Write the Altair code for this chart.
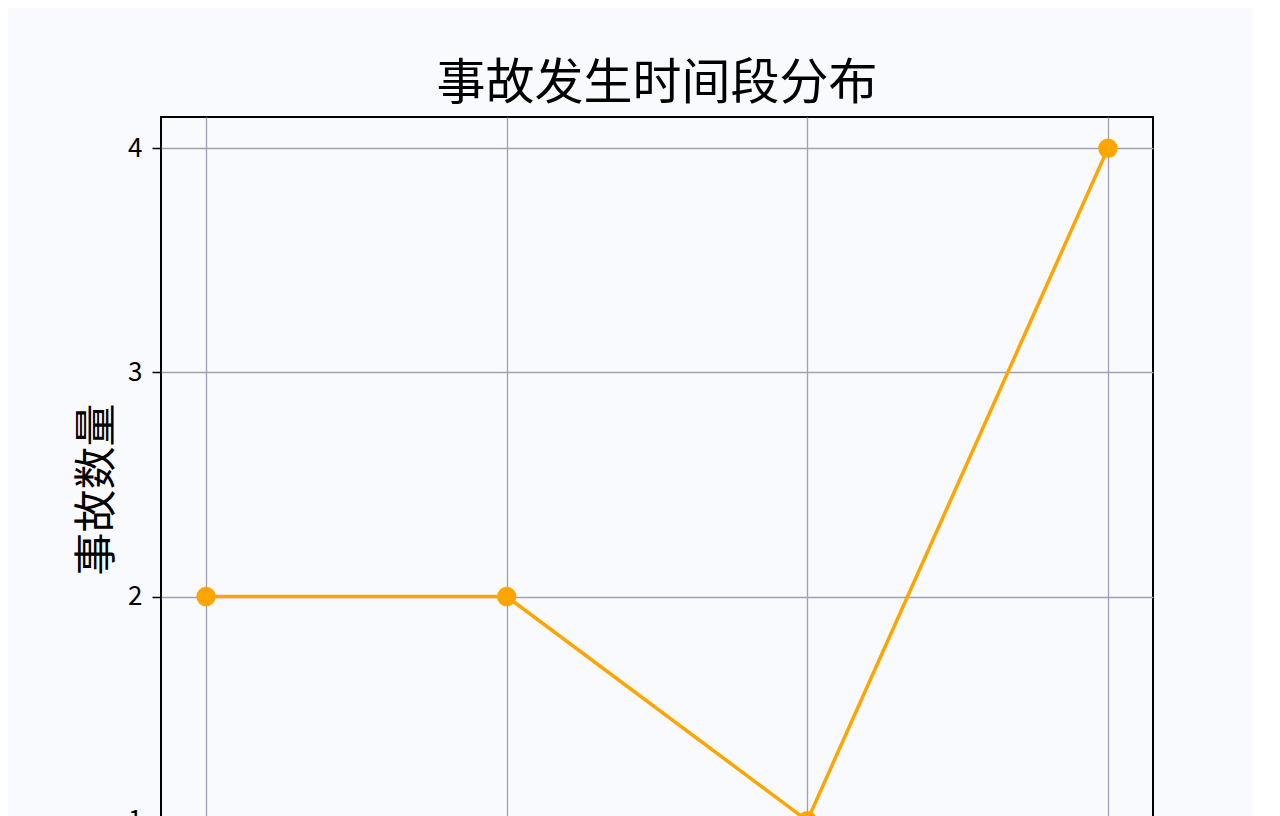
import altair as alt
import pandas as pd

periods = ["0-6时", "6-12时", "12-18时", "18-24时"]
counts = [2, 2, 1, 4]
y_ticks = [1, 2, 3, 4]

df = pd.DataFrame({"时间段": periods, "事故数量": counts})

FONT = "Noto Sans CJK SC"
GRID = "#a39eb8"

x = alt.X(
    "时间段:N",
    sort=periods,
    scale=alt.Scale(type="point", padding=0.15),
    axis=alt.Axis(
        title="时间段",
        labelAngle=0,
        grid=True,
        gridColor=GRID,
        gridWidth=1.3,
        domain=False,
        tickColor="black",
        tickSize=9,
        labelFontSize=26,
        labelFont=FONT,
        labelColor="black",
        titleFontSize=42,
        titleFont=FONT,
        titleFontWeight="normal",
    ),
)
y = alt.Y(
    "事故数量:Q",
    scale=alt.Scale(domain=[0.86, 4.14], nice=False, zero=False),
    axis=alt.Axis(
        title="事故数量",
        values=y_ticks,
        format="d",
        grid=True,
        gridColor=GRID,
        gridWidth=1.3,
        domain=False,
        tickColor="black",
        tickSize=9,
        tickWidth=1.5,
        labelPadding=10,
        labelFontSize=26,
        labelFont=FONT,
        labelColor="black",
        titleFontSize=43,
        titleFont=FONT,
        titleFontWeight="normal",
        titleColor="black",
        titleX=-64,
        titleY=372,
        titleAngle=-90,
        titleAlign="center",
        titleBaseline="middle",
    ),
)

base = alt.Chart(df).encode(x=x, y=y)
line = base.mark_line(color="#FFA500", strokeWidth=3.5)
pts = base.mark_point(filled=True, color="#FFA500", size=380, opacity=1)

chart = (
    (line + pts)
    .properties(
        width=992,
        height=735,
        title=alt.TitleParams(
            "事故发生时间段分布",
            fontSize=49,
            font=FONT,
            fontWeight="normal",
            color="black",
            anchor="middle",
            offset=8,
        ),
        autosize=alt.AutoSizeParams(type="none"),
        padding={"left": 153, "top": 109, "right": 100, "bottom": 100},
        background="#f8fafd",
    )
    .configure_view(stroke="black", strokeWidth=2, fill="#f8fafd")
)

chart.save("out.html", embed_options={"renderer": "svg", "actions": False})
